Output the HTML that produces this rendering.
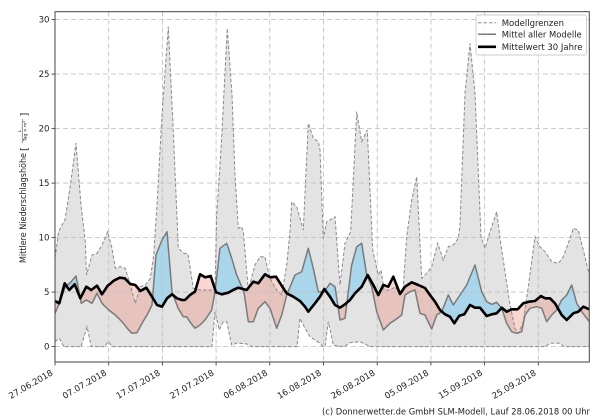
<!DOCTYPE html>
<html><head><meta charset="utf-8"><style>
html,body{margin:0;padding:0;background:#fff;}
svg{display:block;}
text{font-family:"DejaVu Sans","Liberation Sans",sans-serif;fill:#222;}
</style></head><body>
<svg width="600" height="420" viewBox="0 0 600 420" xmlns="http://www.w3.org/2000/svg">
<defs>
<clipPath id="aboveBlack"><polygon points="55,0 55,301 59.3,303.3 64.7,283.3 69.3,290 74.7,284.3 80.3,298.3 86.3,286.7 91.3,290 97,285.7 102,294.3 107.7,285.7 113.7,280.7 119.7,277.7 124.7,278.3 130.3,284 135.3,285 140.3,291 146.3,287.7 152,296.7 157,305 162,306.7 167,298.3 172,294.3 177,298.3 182,300 185,300 190,295 195,291.7 200,274.3 205,277.3 210.7,276 216,292.3 221.7,294.3 228.3,292.7 233,290 238.3,287.7 246.7,290 253.3,281.7 258.3,283.3 265,274.3 270,277.3 276,276.7 281.7,285.7 286.7,293.3 293.3,296.7 300,301 305,306.7 308.3,311.7 315,303.3 320,296.7 324.3,289 330,296.7 335,305 340,307.7 345,304.3 350,300 355,293.3 361.7,286.7 367.7,275 373.3,285 378.3,295 383.3,285 388.3,286.7 393.3,276.7 400,294 405,286.7 411.7,282.3 418.3,285 425,288 430,295 435,301.7 440,310 445,314.3 450,316.7 454.3,323.3 459.3,315.7 464.3,314.3 470,305 475,307.7 480,307.7 486.7,316 491.7,314.3 496.7,313.3 501.7,307.7 506.7,311.7 511.7,309.3 517.7,309.3 523.3,303.3 529,301.7 535,301 541,296 545,298.3 550,298.3 555,303.3 561.7,315 566.7,320 573.3,313.3 578.3,311.7 583.3,306.7 589.3,309.3 589.3,0"/></clipPath>
<clipPath id="belowBlack"><polygon points="55,420 55,301 59.3,303.3 64.7,283.3 69.3,290 74.7,284.3 80.3,298.3 86.3,286.7 91.3,290 97,285.7 102,294.3 107.7,285.7 113.7,280.7 119.7,277.7 124.7,278.3 130.3,284 135.3,285 140.3,291 146.3,287.7 152,296.7 157,305 162,306.7 167,298.3 172,294.3 177,298.3 182,300 185,300 190,295 195,291.7 200,274.3 205,277.3 210.7,276 216,292.3 221.7,294.3 228.3,292.7 233,290 238.3,287.7 246.7,290 253.3,281.7 258.3,283.3 265,274.3 270,277.3 276,276.7 281.7,285.7 286.7,293.3 293.3,296.7 300,301 305,306.7 308.3,311.7 315,303.3 320,296.7 324.3,289 330,296.7 335,305 340,307.7 345,304.3 350,300 355,293.3 361.7,286.7 367.7,275 373.3,285 378.3,295 383.3,285 388.3,286.7 393.3,276.7 400,294 405,286.7 411.7,282.3 418.3,285 425,288 430,295 435,301.7 440,310 445,314.3 450,316.7 454.3,323.3 459.3,315.7 464.3,314.3 470,305 475,307.7 480,307.7 486.7,316 491.7,314.3 496.7,313.3 501.7,307.7 506.7,311.7 511.7,309.3 517.7,309.3 523.3,303.3 529,301.7 535,301 541,296 545,298.3 550,298.3 555,303.3 561.7,315 566.7,320 573.3,313.3 578.3,311.7 583.3,306.7 589.3,309.3 589.3,420"/></clipPath>
<clipPath id="plot"><rect x="55" y="11.7" width="534.3" height="350.3"/></clipPath>
</defs>

<g clip-path="url(#plot)">
<!-- model band -->
<polygon fill="#e3e3e3" points="55,258 58.7,231.7 63.7,221.7 65,220 70,188 76,143 81,205 85.3,241.7 86.5,275 92,255 97,253.3 102,245 107.7,231.7 112,248.3 115.3,268.3 120.3,266.7 125.3,268.3 130.3,285 135.3,303.3 140.3,286.7 145.3,285 150.3,278.3 153.7,255 157,205 162,115 168.3,26.7 173,125 178.3,248 183.3,253 188,254 193.3,288.3 200,290 210,290 215,290 216.7,215 221,150 227.3,28.3 232,95 235,175 238.3,228.3 241.5,226.7 243.3,231.7 248.3,290 255,265 260,256.7 265,256.7 268.3,271.7 271.7,281.7 276.7,290 281.7,295 286.7,265 290,231.7 291.7,201.7 296.7,206.7 303.3,230 308.3,123.3 313.3,138.3 318.3,141.7 320,150 323.3,238.3 326.7,221.7 330,220 335,216.7 340,285 345,243.3 350.7,231.7 356.7,111.7 361.7,141.7 367.3,130 372.7,250 378.3,275 381,270 384,290 390,290 395,287 400,293 403,290 406.7,236.7 411.7,200 416.7,176.7 421.7,278.3 426.7,273.3 431.7,266.7 437.7,243.3 443.3,260 448.3,246.7 453.3,245 458.3,238.3 460,225 465,93.3 470,43.3 475,93.3 481,236.7 485,248.3 490,231.7 496.7,211.7 500,238.3 505,271.7 510,305 515,328.3 518.3,333.3 523.3,321.7 528.3,286.7 535,236.7 540,246.7 545,251.7 551.7,261.7 558.3,263.3 563.3,256.7 568.3,243.3 573.3,228.3 578.3,230 583.3,250 589.3,275 589.3,346.6 564,346.6 560,343.3 550,343.3 545,346.6 370,346.6 366,344.5 360,341.7 350,342.7 345,346 340,346.6 333.3,345 328.3,321.7 325,346.6 323,346.6 320,343.3 315,340 310,336.7 305,328.3 300,318.3 297,346.6 252,346.6 247,344 237,343 231.7,345 226.7,321.7 223.3,321.7 219.3,330 215,311.7 212,346.6 112,346.6 108.7,341.7 104,346.6 91.3,346.6 87,326.7 81,346.6 63.7,346.6 59.3,338.3 55,341.7"/>

<!-- blue: mean above 30y -->
<polygon fill="#a9d6ea" clip-path="url(#aboveBlack)" points="55,420 55,313.3 59.3,303.3 65.3,286.7 70,283 76,276 81.3,303.3 86.3,300 92,303.3 97,293.3 102,303.3 108.7,310 115.3,315 122,321.7 128.7,330 132,333.3 137,332.7 142,323.3 147,315 152,305 156,255 162,240 167,231.7 172,292 178,308 183.3,316.7 186.7,316.7 190,322 195,328.3 200,325 205,320 211.7,310 215,291.7 220,248.3 226.7,243.3 231.7,258.3 236.7,275 241.7,286.7 244,292 248.3,321.7 253.3,321.7 258.3,308.3 265,301.7 270,308.3 276.7,328.3 281.7,315 286.7,295 295,275 301.7,271.7 308.3,248.3 313.3,268.3 318.3,291.7 324,292 330,283.3 335,286.7 340,320 345,318.3 348.3,291.7 351.7,265 356.7,246.7 361.7,243.3 366.7,275 371.7,286.7 376.7,311.7 383.3,330 390,323.3 395,320 401.7,315 405,295 410,291.7 415,290 420,313.3 425,315 431.7,329 436.7,315 441.7,311.7 448.3,295 453.3,305 460,295 466.7,285 475,265 481.7,291.7 486.7,301.7 491.7,304.3 496.7,302.3 501.7,308.3 506.7,323.3 511.7,331.7 516.7,333.3 521.7,331.7 525,315 530,308.3 536.7,306.7 541.7,308.3 546.7,321.7 551.7,315 556.7,310 561.7,300 566.7,295 571.7,285 576.7,303.3 581.7,311.7 589.3,321.7 589.3,420"/>
<!-- pink: mean below 30y -->
<polygon fill="#f08070" fill-opacity="0.32" clip-path="url(#belowBlack)" points="55,0 55,313.3 59.3,303.3 65.3,286.7 70,283 76,276 81.3,303.3 86.3,300 92,303.3 97,293.3 102,303.3 108.7,310 115.3,315 122,321.7 128.7,330 132,333.3 137,332.7 142,323.3 147,315 152,305 156,255 162,240 167,231.7 172,292 178,308 183.3,316.7 186.7,316.7 190,322 195,328.3 200,325 205,320 211.7,310 215,291.7 220,248.3 226.7,243.3 231.7,258.3 236.7,275 241.7,286.7 244,292 248.3,321.7 253.3,321.7 258.3,308.3 265,301.7 270,308.3 276.7,328.3 281.7,315 286.7,295 295,275 301.7,271.7 308.3,248.3 313.3,268.3 318.3,291.7 324,292 330,283.3 335,286.7 340,320 345,318.3 348.3,291.7 351.7,265 356.7,246.7 361.7,243.3 366.7,275 371.7,286.7 376.7,311.7 383.3,330 390,323.3 395,320 401.7,315 405,295 410,291.7 415,290 420,313.3 425,315 431.7,329 436.7,315 441.7,311.7 448.3,295 453.3,305 460,295 466.7,285 475,265 481.7,291.7 486.7,301.7 491.7,304.3 496.7,302.3 501.7,308.3 506.7,323.3 511.7,331.7 516.7,333.3 521.7,331.7 525,315 530,308.3 536.7,306.7 541.7,308.3 546.7,321.7 551.7,315 556.7,310 561.7,300 566.7,295 571.7,285 576.7,303.3 581.7,311.7 589.3,321.7 589.3,0"/>

<!-- grid -->
<g stroke="#c2c2c2" stroke-width="0.9" stroke-dasharray="5,3" fill="none">
<line x1="55" y1="346.6" x2="589.3" y2="346.6"/>
<line x1="55" y1="292.1" x2="589.3" y2="292.1"/>
<line x1="55" y1="237.6" x2="589.3" y2="237.6"/>
<line x1="55" y1="183.1" x2="589.3" y2="183.1"/>
<line x1="55" y1="128.6" x2="589.3" y2="128.6"/>
<line x1="55" y1="74.1" x2="589.3" y2="74.1"/>
<line x1="55" y1="19.6" x2="589.3" y2="19.6"/>
<line x1="108.7" y1="11.7" x2="108.7" y2="362"/>
<line x1="162.4" y1="11.7" x2="162.4" y2="362"/>
<line x1="216.1" y1="11.7" x2="216.1" y2="362"/>
<line x1="269.8" y1="11.7" x2="269.8" y2="362"/>
<line x1="323.5" y1="11.7" x2="323.5" y2="362"/>
<line x1="377.2" y1="11.7" x2="377.2" y2="362"/>
<line x1="430.9" y1="11.7" x2="430.9" y2="362"/>
<line x1="484.6" y1="11.7" x2="484.6" y2="362"/>
<line x1="538.3" y1="11.7" x2="538.3" y2="362"/>
</g>

<!-- bounds -->
<g fill="none" stroke="#8a8a8a" stroke-width="1" stroke-dasharray="3.5,2">
<polyline points="55,258 58.7,231.7 63.7,221.7 65,220 70,188 76,143 81,205 85.3,241.7 86.5,275 92,255 97,253.3 102,245 107.7,231.7 112,248.3 115.3,268.3 120.3,266.7 125.3,268.3 130.3,285 135.3,303.3 140.3,286.7 145.3,285 150.3,278.3 153.7,255 157,205 162,115 168.3,26.7 173,125 178.3,248 183.3,253 188,254 193.3,288.3 200,290 210,290 215,290 216.7,215 221,150 227.3,28.3 232,95 235,175 238.3,228.3 241.5,226.7 243.3,231.7 248.3,290 255,265 260,256.7 265,256.7 268.3,271.7 271.7,281.7 276.7,290 281.7,295 286.7,265 290,231.7 291.7,201.7 296.7,206.7 303.3,230 308.3,123.3 313.3,138.3 318.3,141.7 320,150 323.3,238.3 326.7,221.7 330,220 335,216.7 340,285 345,243.3 350.7,231.7 356.7,111.7 361.7,141.7 367.3,130 372.7,250 378.3,275 381,270 384,290 390,290 395,287 400,293 403,290 406.7,236.7 411.7,200 416.7,176.7 421.7,278.3 426.7,273.3 431.7,266.7 437.7,243.3 443.3,260 448.3,246.7 453.3,245 458.3,238.3 460,225 465,93.3 470,43.3 475,93.3 481,236.7 485,248.3 490,231.7 496.7,211.7 500,238.3 505,271.7 510,305 515,328.3 518.3,333.3 523.3,321.7 528.3,286.7 535,236.7 540,246.7 545,251.7 551.7,261.7 558.3,263.3 563.3,256.7 568.3,243.3 573.3,228.3 578.3,230 583.3,250 589.3,275"/>
<polyline points="55,341.7 59.3,338.3 63.7,346.6 81,346.6 87,326.7 91.3,346.6 104,346.6 108.7,341.7 112,346.6 212,346.6 215,311.7 219.3,330 223.3,321.7 226.7,321.7 231.7,345 237,343 247,344 252,346.6 297,346.6 300,318.3 305,328.3 310,336.7 315,340 320,343.3 323,346.6 325,346.6 328.3,321.7 333.3,345 340,346.6 345,346 350,342.7 360,341.7 366,344.5 370,346.6 545,346.6 550,343.3 560,343.3 564,346.6 589.3,346.6"/>
</g>

<!-- mean of models -->
<polyline fill="none" stroke="#7a7a7a" stroke-width="1.5" stroke-linejoin="round" points="55,313.3 59.3,303.3 65.3,286.7 70,283 76,276 81.3,303.3 86.3,300 92,303.3 97,293.3 102,303.3 108.7,310 115.3,315 122,321.7 128.7,330 132,333.3 137,332.7 142,323.3 147,315 152,305 156,255 162,240 167,231.7 172,292 178,308 183.3,316.7 186.7,316.7 190,322 195,328.3 200,325 205,320 211.7,310 215,291.7 220,248.3 226.7,243.3 231.7,258.3 236.7,275 241.7,286.7 244,292 248.3,321.7 253.3,321.7 258.3,308.3 265,301.7 270,308.3 276.7,328.3 281.7,315 286.7,295 295,275 301.7,271.7 308.3,248.3 313.3,268.3 318.3,291.7 324,292 330,283.3 335,286.7 340,320 345,318.3 348.3,291.7 351.7,265 356.7,246.7 361.7,243.3 366.7,275 371.7,286.7 376.7,311.7 383.3,330 390,323.3 395,320 401.7,315 405,295 410,291.7 415,290 420,313.3 425,315 431.7,329 436.7,315 441.7,311.7 448.3,295 453.3,305 460,295 466.7,285 475,265 481.7,291.7 486.7,301.7 491.7,304.3 496.7,302.3 501.7,308.3 506.7,323.3 511.7,331.7 516.7,333.3 521.7,331.7 525,315 530,308.3 536.7,306.7 541.7,308.3 546.7,321.7 551.7,315 556.7,310 561.7,300 566.7,295 571.7,285 576.7,303.3 581.7,311.7 589.3,321.7"/>

<!-- 30-year mean -->
<polyline fill="none" stroke="#000" stroke-width="2.6" stroke-linejoin="round" points="55,301 59.3,303.3 64.7,283.3 69.3,290 74.7,284.3 80.3,298.3 86.3,286.7 91.3,290 97,285.7 102,294.3 107.7,285.7 113.7,280.7 119.7,277.7 124.7,278.3 130.3,284 135.3,285 140.3,291 146.3,287.7 152,296.7 157,305 162,306.7 167,298.3 172,294.3 177,298.3 182,300 185,300 190,295 195,291.7 200,274.3 205,277.3 210.7,276 216,292.3 221.7,294.3 228.3,292.7 233,290 238.3,287.7 246.7,290 253.3,281.7 258.3,283.3 265,274.3 270,277.3 276,276.7 281.7,285.7 286.7,293.3 293.3,296.7 300,301 305,306.7 308.3,311.7 315,303.3 320,296.7 324.3,289 330,296.7 335,305 340,307.7 345,304.3 350,300 355,293.3 361.7,286.7 367.7,275 373.3,285 378.3,295 383.3,285 388.3,286.7 393.3,276.7 400,294 405,286.7 411.7,282.3 418.3,285 425,288 430,295 435,301.7 440,310 445,314.3 450,316.7 454.3,323.3 459.3,315.7 464.3,314.3 470,305 475,307.7 480,307.7 486.7,316 491.7,314.3 496.7,313.3 501.7,307.7 506.7,311.7 511.7,309.3 517.7,309.3 523.3,303.3 529,301.7 535,301 541,296 545,298.3 550,298.3 555,303.3 561.7,315 566.7,320 573.3,313.3 578.3,311.7 583.3,306.7 589.3,309.3"/>
</g>

<!-- axes frame -->
<rect x="55" y="11.7" width="534.3" height="350.3" fill="none" stroke="#444" stroke-width="1"/>

<!-- ticks -->
<g stroke="#444" stroke-width="0.9">
<line x1="51.5" y1="346.6" x2="55" y2="346.6"/>
<line x1="51.5" y1="292.1" x2="55" y2="292.1"/>
<line x1="51.5" y1="237.6" x2="55" y2="237.6"/>
<line x1="51.5" y1="183.1" x2="55" y2="183.1"/>
<line x1="51.5" y1="128.6" x2="55" y2="128.6"/>
<line x1="51.5" y1="74.1" x2="55" y2="74.1"/>
<line x1="51.5" y1="19.6" x2="55" y2="19.6"/>
<line x1="55" y1="362" x2="55" y2="365.5"/>
<line x1="108.7" y1="362" x2="108.7" y2="365.5"/>
<line x1="162.4" y1="362" x2="162.4" y2="365.5"/>
<line x1="216.1" y1="362" x2="216.1" y2="365.5"/>
<line x1="269.8" y1="362" x2="269.8" y2="365.5"/>
<line x1="323.5" y1="362" x2="323.5" y2="365.5"/>
<line x1="377.2" y1="362" x2="377.2" y2="365.5"/>
<line x1="430.9" y1="362" x2="430.9" y2="365.5"/>
<line x1="484.6" y1="362" x2="484.6" y2="365.5"/>
<line x1="538.3" y1="362" x2="538.3" y2="365.5"/>
</g>

<!-- y tick labels -->
<g font-size="8.6" text-anchor="end">
<text x="49.5" y="349.7">0</text>
<text x="49.5" y="295.2">5</text>
<text x="49.5" y="240.7">10</text>
<text x="49.5" y="186.2">15</text>
<text x="49.5" y="131.7">20</text>
<text x="49.5" y="77.2">25</text>
<text x="49.5" y="22.7">30</text>
</g>

<!-- x tick labels -->
<g font-size="8.6" text-anchor="end">
<text transform="translate(53.5,374.5) rotate(-30)">27.06.2018</text>
<text transform="translate(107.2,374.5) rotate(-30)">07.07.2018</text>
<text transform="translate(160.9,374.5) rotate(-30)">17.07.2018</text>
<text transform="translate(214.6,374.5) rotate(-30)">27.07.2018</text>
<text transform="translate(268.3,374.5) rotate(-30)">06.08.2018</text>
<text transform="translate(322,374.5) rotate(-30)">16.08.2018</text>
<text transform="translate(375.7,374.5) rotate(-30)">26.08.2018</text>
<text transform="translate(429.4,374.5) rotate(-30)">05.09.2018</text>
<text transform="translate(483.1,374.5) rotate(-30)">15.09.2018</text>
<text transform="translate(536.8,374.5) rotate(-30)">25.09.2018</text>
</g>

<!-- y axis label -->
<g transform="translate(26,187) rotate(-90)">
<text x="-76" y="0" font-size="8.6" textLength="110" lengthAdjust="spacingAndGlyphs">Mittlere Niederschlagshöhe</text>
<text x="36" y="1.5" font-size="10">[</text>
<text x="56" y="-5" font-size="4.5" text-anchor="middle">L</text>
<line x1="44" y1="-3.8" x2="68" y2="-3.8" stroke="#333" stroke-width="0.5"/>
<text x="56" y="0.5" font-size="4.5" text-anchor="middle">Tag × m²</text>
<text x="70.5" y="1.5" font-size="10">]</text>
</g>

<!-- legend -->
<rect x="476" y="15" width="110.5" height="40" rx="2" ry="2" fill="#fff" fill-opacity="0.85" stroke="#cccccc" stroke-width="0.9"/>
<line x1="478" y1="22.7" x2="496" y2="22.7" stroke="#8a8a8a" stroke-width="1" stroke-dasharray="3.5,2"/>
<line x1="478" y1="34.3" x2="496" y2="34.3" stroke="#7a7a7a" stroke-width="1.5"/>
<line x1="478" y1="46.8" x2="496" y2="46.8" stroke="#000" stroke-width="2.6"/>
<g font-size="8.5">
<text x="501.7" y="25.8">Modellgrenzen</text>
<text x="501.7" y="37.4" textLength="80" lengthAdjust="spacingAndGlyphs">Mittel aller Modelle</text>
<text x="501.7" y="49.9">Mittelwert 30 Jahre</text>
</g>

<!-- credit -->
<text x="590" y="414.5" font-size="8.5" text-anchor="end" textLength="268" lengthAdjust="spacingAndGlyphs">(c) Donnerwetter.de GmbH SLM-Modell, Lauf 28.06.2018 00 Uhr</text>
</svg>
</body></html>
